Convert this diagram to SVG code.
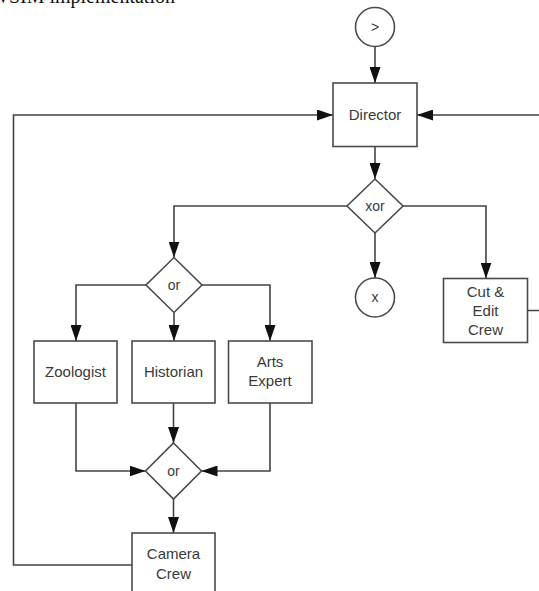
<svg xmlns="http://www.w3.org/2000/svg" width="539" height="591" viewBox="0 0 539 591">
  <style>
    .box { fill: #ffffff; stroke: #4a4a4a; stroke-width: 1.6; }
    .lbl { font-family: "Liberation Sans", Arial, sans-serif; font-size: 15px; fill: #3a3a3a; text-anchor: middle; }
    .sm { font-size: 14px; }
    .conn { fill: none; stroke: #444444; stroke-width: 1.6; }
    .title { font-family: "Liberation Serif", "Times New Roman", serif; font-size: 20px; fill: #111111; }
  </style>
  <defs>
    <marker id="arrow" markerUnits="userSpaceOnUse" markerWidth="16" markerHeight="11" refX="16" refY="5.5" orient="auto">
      <path d="M0,0 L16,5.5 L0,11 z" fill="#111111"/>
    </marker>
  </defs>
  <rect width="539" height="591" fill="#ffffff"/>

  <text class="title" x="-10" y="3">WSIM implementation</text>

  <!-- connectors -->
  <g id="connectors">
    <path class="conn" marker-end="url(#arrow)" d="M375,46.5 V83"/>
    <path class="conn" marker-end="url(#arrow)" d="M375,146.5 V179"/>
    <path class="conn" marker-end="url(#arrow)" d="M347,206 H174 V257.5"/>
    <path class="conn" marker-end="url(#arrow)" d="M375,233 V278"/>
    <path class="conn" marker-end="url(#arrow)" d="M403,206 H486 V278.5"/>
    <path class="conn" marker-end="url(#arrow)" d="M528,310.5 H548 V115 H417"/>
    <path class="conn" marker-end="url(#arrow)" d="M132,565 H13.5 V115 H333"/>
    <path class="conn" marker-end="url(#arrow)" d="M146,285 H76 V341"/>
    <path class="conn" marker-end="url(#arrow)" d="M174,312.5 V341"/>
    <path class="conn" marker-end="url(#arrow)" d="M202,285 H270 V341"/>
    <path class="conn" marker-end="url(#arrow)" d="M76,403 V471 H145.5"/>
    <path class="conn" marker-end="url(#arrow)" d="M173.5,403 V443"/>
    <path class="conn" marker-end="url(#arrow)" d="M270,403 V471 H201.5"/>
    <path class="conn" marker-end="url(#arrow)" d="M173.5,499 V533"/>
  </g>

  <!-- start event -->
  <g id="start">
    <circle class="box" cx="375" cy="27" r="19.5"/>
    <text class="lbl sm" x="375" y="32">&gt;</text>
  </g>

  <g id="director">
    <rect class="box" x="333" y="83" width="84" height="63.5"/>
    <text class="lbl" x="375" y="120">Director</text>
  </g>

  <g id="xor-split">
    <path class="box" d="M375,179 L403,206 L375,233 L347,206 z"/>
    <text class="lbl sm" x="375" y="211">xor</text>
  </g>

  <!-- end event -->
  <g id="end">
    <circle class="box" cx="375" cy="297.5" r="19.5"/>
    <text class="lbl sm" x="375" y="302">x</text>
  </g>

  <g id="cut-edit-crew">
    <rect class="box" x="443.5" y="278.5" width="84" height="64"/>
    <text class="lbl" x="485.5" y="297">Cut &amp;</text>
    <text class="lbl" x="485.5" y="316">Edit</text>
    <text class="lbl" x="485.5" y="335">Crew</text>
  </g>

  <g id="or-split">
    <path class="box" d="M174,257.5 L202,285 L174,312.5 L146,285 z"/>
    <text class="lbl sm" x="174" y="290">or</text>
  </g>

  <g id="zoologist">
    <rect class="box" x="34" y="341" width="83" height="62"/>
    <text class="lbl" x="75.5" y="377">Zoologist</text>
  </g>

  <g id="historian">
    <rect class="box" x="132" y="341" width="83" height="62"/>
    <text class="lbl" x="173.5" y="377">Historian</text>
  </g>

  <g id="arts-expert">
    <rect class="box" x="228.5" y="341" width="83.5" height="62"/>
    <text class="lbl" x="270" y="367">Arts</text>
    <text class="lbl" x="270" y="386">Expert</text>
  </g>

  <g id="or-join">
    <path class="box" d="M173.5,443 L201.5,471 L173.5,499 L145.5,471 z"/>
    <text class="lbl sm" x="173.5" y="476">or</text>
  </g>

  <g id="camera-crew">
    <rect class="box" x="132" y="533" width="83" height="62"/>
    <text class="lbl" x="173.5" y="559">Camera</text>
    <text class="lbl" x="173.5" y="578.5">Crew</text>
  </g>
</svg>
